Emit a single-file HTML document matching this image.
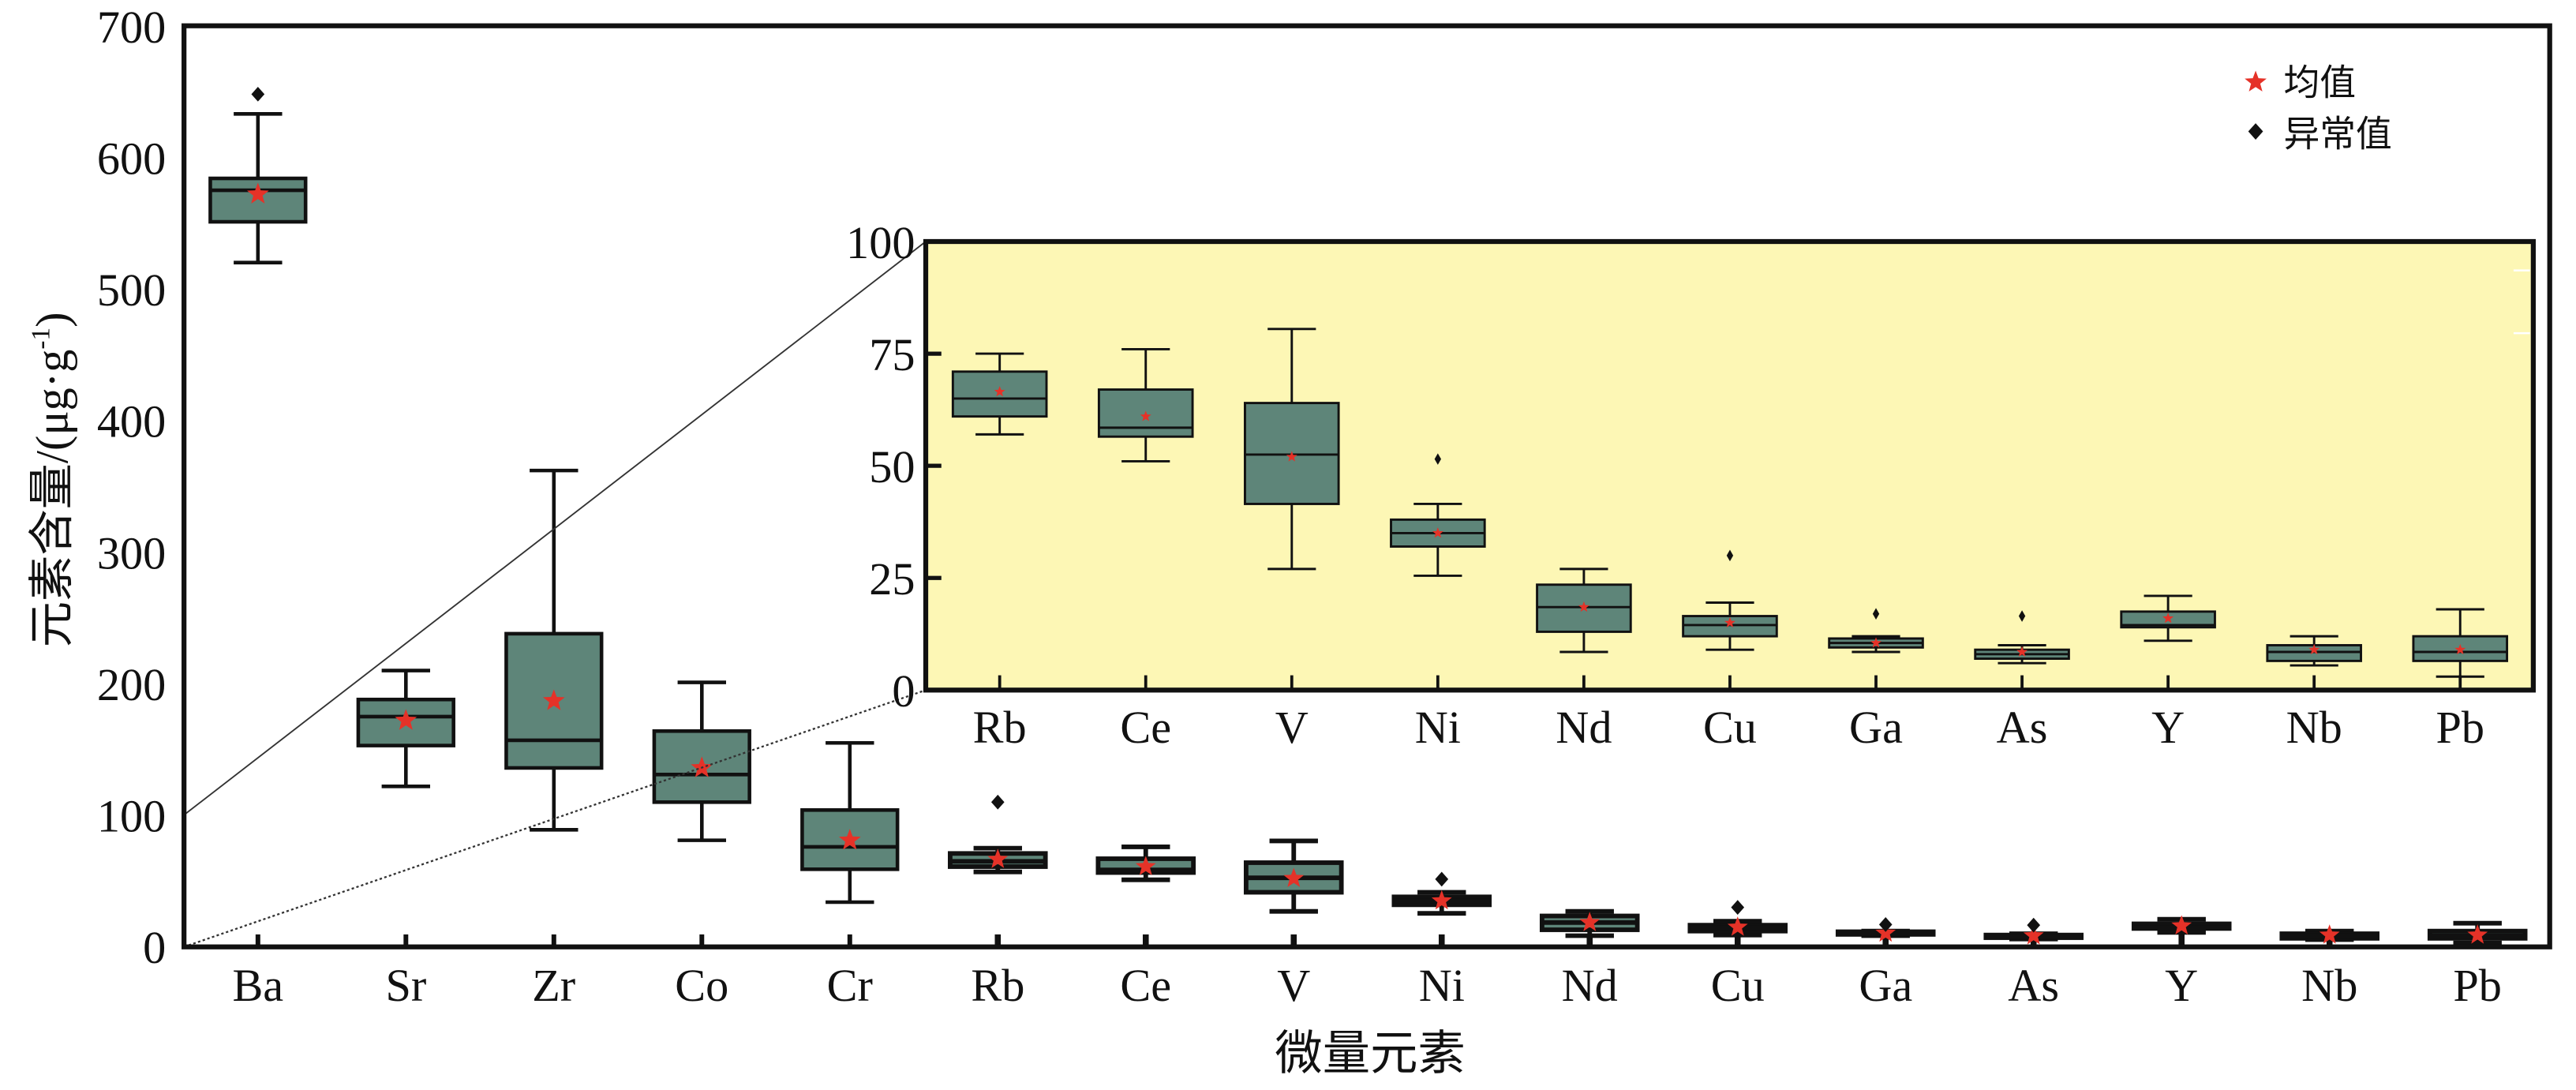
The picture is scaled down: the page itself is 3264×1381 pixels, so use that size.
<!DOCTYPE html>
<html><head><meta charset="utf-8"><style>
html,body{margin:0;padding:0;background:#fff;}
svg{display:block;}
svg text{font-family:"Liberation Serif","Times New Roman","Noto Serif CJK SC",serif;fill:#111;}
svg text.cj{font-family:"Liberation Serif","Noto Sans CJK SC",sans-serif;}
</style></head><body>
<svg id="s" xmlns="http://www.w3.org/2000/svg" width="3264" height="1381" viewBox="0 0 1568 663.4" preserveAspectRatio="none" font-family="Liberation Serif, serif">
<rect x="0" y="0" width="1568" height="663.4" fill="#fff"/>
<rect x="563.5" y="147" width="978.5" height="273" fill="#FDF7B5"/>
<g id="main"></g>
<g id="ins"></g>
<line x1="112" y1="496" x2="563.5" y2="147" stroke="#333" stroke-width="0.9"/>
<line x1="112" y1="576.3" x2="563.5" y2="420" stroke="#333" stroke-width="1.1" stroke-dasharray="1.5,1.5"/>
<line x1="1530" y1="164.6" x2="1540" y2="164.6" stroke="#fff" stroke-width="1.2"/>
<line x1="1530" y1="202.8" x2="1540" y2="202.8" stroke="#fff" stroke-width="1.2"/>
<rect x="112" y="15.7" width="1440" height="560.6" fill="none" stroke="#111" stroke-width="3"/>
<rect x="563.5" y="147" width="978.5" height="273" fill="none" stroke="#111" stroke-width="3"/>

<g font-size="28" text-anchor="end" font-family="Liberation Serif, serif">
<text x="101" y="586">0</text>
<text x="101" y="506">100</text>
<text x="101" y="426">200</text>
<text x="101" y="346">300</text>
<text x="101" y="266">400</text>
<text x="101" y="186">500</text>
<text x="101" y="106">600</text>
<text x="101" y="26">700</text>
</g>
<g font-size="28" text-anchor="end" font-family="Liberation Serif, serif">
<text x="557" y="430">0</text>
<text x="557" y="361.8">25</text>
<text x="557" y="293.5">50</text>
<text x="557" y="225.3">75</text>
<text x="557" y="157">100</text>
</g>
<g font-size="28" text-anchor="middle" font-family="Liberation Serif, serif">
<text x="157" y="609">Ba</text>
<text x="247.1" y="609">Sr</text>
<text x="337.1" y="609">Zr</text>
<text x="427.2" y="609">Co</text>
<text x="517.3" y="609">Cr</text>
<text x="607.4" y="609">Rb</text>
<text x="697.4" y="609">Ce</text>
<text x="787.5" y="609">V</text>
<text x="877.6" y="609">Ni</text>
<text x="967.6" y="609">Nd</text>
<text x="1057.7" y="609">Cu</text>
<text x="1147.8" y="609">Ga</text>
<text x="1237.8" y="609">As</text>
<text x="1327.9" y="609">Y</text>
<text x="1418" y="609">Nb</text>
<text x="1508" y="609">Pb</text>
</g>
<g font-size="28" text-anchor="middle" font-family="Liberation Serif, serif">
<text x="608.5" y="452">Rb</text>
<text x="697.4" y="452">Ce</text>
<text x="786.3" y="452">V</text>
<text x="875.2" y="452">Ni</text>
<text x="964.1" y="452">Nd</text>
<text x="1053" y="452">Cu</text>
<text x="1141.9" y="452">Ga</text>
<text x="1230.8" y="452">As</text>
<text x="1319.7" y="452">Y</text>
<text x="1408.6" y="452">Nb</text>
<text x="1497.5" y="452">Pb</text>
</g>
<text class="cj" x="834" y="651" font-size="29" text-anchor="middle">微量元素</text>
<text class="cj" transform="translate(41,292) rotate(-90)" font-size="28" text-anchor="middle">元素含量/(μg·g<tspan font-size="16" dy="-11">-1</tspan><tspan dy="11">)</tspan></text>
<g id="leg"></g>
<text class="cj" x="1390" y="58" font-size="22">均值</text>
<text class="cj" x="1390" y="89" font-size="22">异常值</text>
</svg>
<script>
var NS="http://www.w3.org/2000/svg";
function el(g,t,a){var e=document.createElementNS(NS,t);for(var k in a)e.setAttribute(k,a[k]);g.appendChild(e);return e;}
function star(g,cx,cy,r){var p=[];for(var i=0;i<10;i++){var rr=i%2?r*0.42:r;var a=-Math.PI/2+i*Math.PI/5;p.push((cx+rr*Math.cos(a)).toFixed(2)+","+(cy+rr*Math.sin(a)).toFixed(2));}el(g,"polygon",{points:p.join(" "),fill:"#E53228"});}
function dia(g,cx,cy,w,h){el(g,"polygon",{points:(cx)+","+(cy-h)+" "+(cx+w)+","+cy+" "+cx+","+(cy+h)+" "+(cx-w)+","+cy,fill:"#111"});}
var D=[[520,551,575,584,633,572,648],[122,153,175,188,210,172,null],[89,136,157,238,362,187,null],[81,110,131,164,201,136,null],[34,59,76,104,155,81,null],
[57,61,65,71,75,66.5,110],[51,56.5,58.5,67,76,61,null],[27,41.5,52.5,64,80.5,52,null],[25.5,32,35,38,41.5,35,51.5],[8.5,13,18.5,23.5,27,18.5,null],[9,12,14.5,16.5,19.5,15,30],[8.5,9.5,10.5,11.5,12,10.5,17],[6,7,8,9,10,8.5,16.5],[11,14,14.5,17.5,21,16,null],[5.5,6.5,8.5,10,12,9,null],[3,6.5,8.5,12,18,9,null]];
function box(g,x,d,Y,bw,cw,sw,sr,tk,tb,tl,dw,dh){
 if(tk){el(g,"line",{x1:x,y1:tb,x2:x,y2:tb-tl,stroke:"#111","stroke-width":sw*1.3});}
 el(g,"line",{x1:x,y1:Y(d[0]),x2:x,y2:Y(d[1]),stroke:"#111","stroke-width":sw});
 el(g,"line",{x1:x,y1:Y(d[3]),x2:x,y2:Y(d[4]),stroke:"#111","stroke-width":sw});
 el(g,"line",{x1:x-cw/2,y1:Y(d[0]),x2:x+cw/2,y2:Y(d[0]),stroke:"#111","stroke-width":sw});
 el(g,"line",{x1:x-cw/2,y1:Y(d[4]),x2:x+cw/2,y2:Y(d[4]),stroke:"#111","stroke-width":sw});
 el(g,"rect",{x:x-bw/2,y:Y(d[3]),width:bw,height:Y(d[1])-Y(d[3]),fill:"#5E8579",stroke:"#111","stroke-width":sw});
 el(g,"line",{x1:x-bw/2,y1:Y(d[2]),x2:x+bw/2,y2:Y(d[2]),stroke:"#111","stroke-width":sw});
 star(g,x,Y(d[5]),sr);
 if(d[6]!=null)dia(g,x,Y(d[6]),dw,dh);
}
var gm=document.getElementById("main");
var Ym=function(v){return 576.3-v*0.8009;};
for(var i=0;i<16;i++){box(gm,157+90.07*i,D[i],Ym,58,29.5,i<5?2.2:2.8,i<5?7:6.5,true,576.3,7.6,4,4.5);}
var gi=document.getElementById("ins");
var Yi=function(v){return 420-v*2.73;};
for(var j=0;j<11;j++){var d=D[j+5].slice();if(j==0)d[6]=null;box(gi,608.5+88.9*j,d,Yi,57,29.4,1.4,3.5,true,420,9,2,3.5);}
[25,50,75].forEach(function(v){el(gi,"line",{x1:563.5,y1:Yi(v),x2:573,y2:Yi(v),stroke:"#111","stroke-width":2.5});});
var gl=document.getElementById("leg");
star(gl,1373,50,7);dia(gl,1373,80,4.5,5);
</script>
</body></html>
